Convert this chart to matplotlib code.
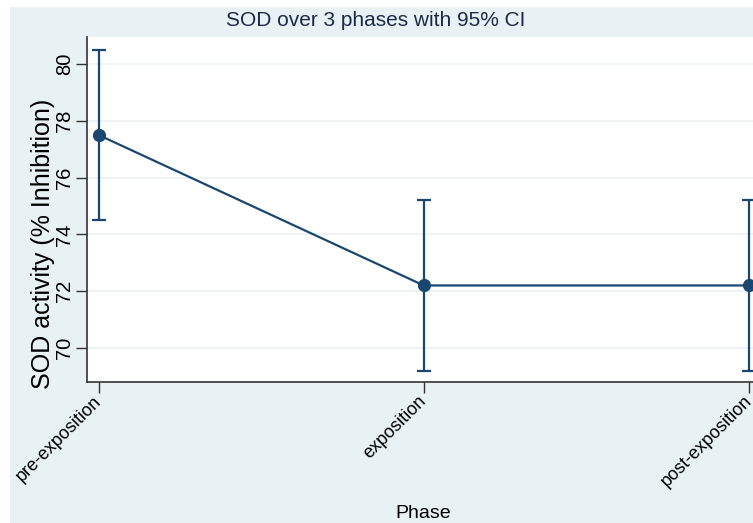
import numpy as np
import matplotlib
matplotlib.use("Agg")
import matplotlib.pyplot as plt
from matplotlib.patches import Rectangle

# Data
phases = ["pre-exposition", "exposition", "post-exposition"]
means = [77.5, 72.2, 72.2]
ci_low = [74.5, 69.2, 69.2]
ci_high = [80.5, 75.2, 75.2]
y_ticks = [70, 72, 74, 76, 78, 80]

plt.rcParams['font.family'] = ['Liberation Sans', 'DejaVu Sans']

W, H = 753, 523
fig = plt.figure(figsize=(W / 100, H / 100), dpi=100, facecolor="white")

# light Stata-like graph region (white strip on left/top)
fig.patches.append(Rectangle((10 / W, 0), 1, (H - 7) / H, transform=fig.transFigure,
                             facecolor="#e8f1f3", edgecolor="none", zorder=-10))

ax = fig.add_axes([86.5 / W, (H - 382) / H, (761 - 86.5) / W, (382 - 37) / H])
ax.set_zorder(5)
ax.set_facecolor("white")

navy = "#1a476f"
x = np.arange(len(phases))
means = np.array(means)
yerr = [means - np.array(ci_low), np.array(ci_high) - means]

ax.plot(x, means, color=navy, lw=1.6, marker="o", markersize=8.5, zorder=3)
ax.errorbar(x, means, yerr=yerr, fmt="none", ecolor=navy, elinewidth=1.6,
            capsize=5, capthick=1.6, zorder=3)

ax.set_xlim(-0.037, 2.037)
ax.set_ylim(68.8, 80.95)
ax.set_yticks(y_ticks)
ax.set_yticklabels([str(v) for v in y_ticks], rotation=90, va="center", fontsize=14.5)
ax.set_xticks(x)
ax.set_xticklabels(phases, rotation=45, ha="right", va="center",
                   rotation_mode="anchor", fontsize=13)
ax.tick_params(axis="both", direction="out", length=8, width=1, color="#333333")
ax.tick_params(axis="x", pad=4)
ax.tick_params(axis="y", pad=1)

ax.grid(axis="y", color="#eaf2f3", lw=1.2)
ax.set_axisbelow(True)
for s in ["top", "right"]:
    ax.spines[s].set_visible(False)
for s in ["left", "bottom"]:
    ax.spines[s].set_color("#333333")
    ax.spines[s].set_linewidth(1.2)

fig.text(43 / W, 1 - 244 / H, "SOD activity (% Inhibition)", rotation=90,
         ha="center", va="center", fontsize=18)
fig.text(423 / W, 1 - 513 / H, "Phase", ha="center", va="center", fontsize=14)
fig.text(376 / W, 1 - 21 / H, "SOD over 3 phases with 95% CI", ha="center",
         va="center", fontsize=15, color="#1c2a48")

fig.savefig("out.png", dpi=100, facecolor=fig.get_facecolor())
